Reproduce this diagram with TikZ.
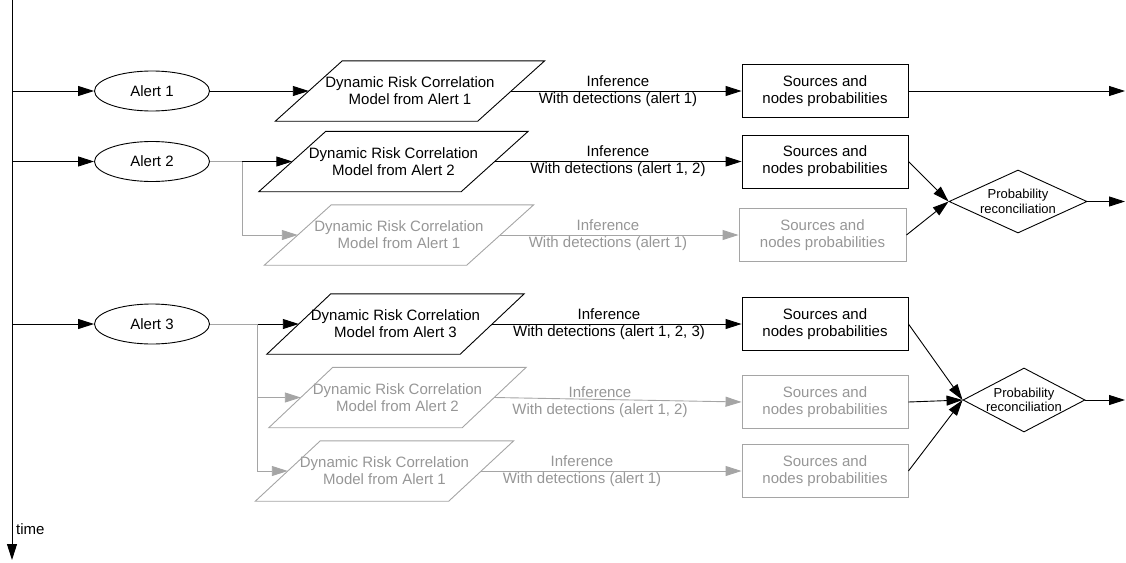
\documentclass[tikz,border=0pt]{standalone}
\usepackage{fontspec}
\setmainfont{Liberation Sans}
\usetikzlibrary{shapes.geometric,arrows.meta}
\definecolor{fadeline}{RGB}{165,165,165}
\definecolor{fadetext}{RGB}{150,150,150}
\tikzset{
  every node/.style={font=\fontsize{15}{17}\selectfont},
  conn/.style={line width=0.9pt, draw=black},
  arr/.style={conn, -{Triangle[length=16pt,width=10pt]}},
  fconn/.style={line width=0.9pt, draw=fadeline},
  farr/.style={fconn, -{Triangle[length=16pt,width=10pt]}},
  alertnode/.style={ellipse, draw, line width=0.9pt, minimum width=115pt, minimum height=40pt, inner sep=0pt},
  paranode/.style={rectangle, minimum width=202pt, minimum height=60pt, inner sep=0pt, align=center},
  parasmall/.style={paranode, minimum width=193pt},
  boxnode/.style={rectangle, draw, line width=0.9pt, minimum width=166pt, minimum height=53pt, inner sep=0pt, align=center},
  fbox/.style={boxnode, draw=fadeline, text=fadetext},
  labelnode/.style={align=center, inner sep=0pt},
  recon/.style={diamond, draw, line width=0.9pt, inner sep=0pt},
  recontext/.style={align=center, font=\fontsize{13}{14.5}\selectfont}
}
\begin{document}
\begin{tikzpicture}[x=1pt, y=-1pt]
\useasboundingbox (0,0) rectangle (1126,562);

% time axis
\coordinate (t0) at (12,0);
\coordinate (t1) at (12,560);
\draw[arr] (t0) -- (t1);
\node[anchor=west, inner sep=0pt] (timelbl) at (16,529) {time};
\coordinate (a1) at (12,91);
\coordinate (a2) at (12,161.5);
\coordinate (a3) at (12,324);

% alerts
\node[alertnode] (e1) at (152,91) {Alert 1};
\node[alertnode] (e2) at (152,161.5) {Alert 2};
\node[alertnode] (e3) at (152,324) {Alert 3};

% models
\node[paranode] (p1) at (410,91) {Dynamic Risk Correlation\\Model from Alert 1};
\node[paranode] (p2) at (393.5,161.5) {Dynamic Risk Correlation\\Model from Alert 2};
\node[paranode, text=fadetext] (p2b) at (399,235) {Dynamic Risk Correlation\\Model from Alert 1};
\node[parasmall] (p3) at (395.5,324) {Dynamic Risk Correlation\\Model from Alert 3};
\node[parasmall, text=fadetext] (p3b) at (397.5,397.5) {Dynamic Risk Correlation\\Model from Alert 2};
\node[parasmall, text=fadetext] (p3c) at (384.5,471) {Dynamic Risk Correlation\\Model from Alert 1};

\foreach \n/\s/\c in {p1/33.5/black, p2/33.5/black, p2b/33.5/fadeline, p3/32/black, p3b/32/fadeline, p3c/32.5/fadeline}
  \draw[line width=0.9pt, draw=\c] ([xshift=-\s pt]\n.south west) -- ([xshift=-\s pt]\n.south east) -- ([xshift=\s pt]\n.north east) -- ([xshift=\s pt]\n.north west) -- cycle;

% result boxes
\node[boxnode] (b1) at (825,91) {Sources and\\nodes probabilities};
\node[boxnode] (b2) at (825,161.5) {Sources and\\nodes probabilities};
\node[fbox, minimum width=167pt] (b2b) at (822.5,235) {Sources and\\nodes probabilities};
\node[boxnode] (b3) at (825,324) {Sources and\\nodes probabilities};
\node[fbox] (b3b) at (825,402) {Sources and\\nodes probabilities};
\node[fbox] (b3c) at (825,471) {Sources and\\nodes probabilities};

% reconciliation
\node[recon, minimum width=138pt, minimum height=63pt, label={[recontext]center:Probability\\reconciliation}] (d1) at (1018,201.5) {};
\node[recon, minimum width=122pt, minimum height=64pt, label={[recontext]center:Probability\\reconciliation}] (d2) at (1024,400) {};

% exits
\coordinate (o1) at (1125,91);
\coordinate (o2) at (1125,201.5);
\coordinate (o3) at (1125,400);

% junctions
\coordinate (j2) at (242,161.5);
\coordinate (j3) at (257,324);

% inference labels
\node[labelnode] (l1) at (618,91) {Inference\\With detections (alert 1)};
\node[labelnode] (l2) at (618,161.5) {Inference\\With detections (alert 1, 2)};
\node[labelnode, text=fadetext] (l2b) at (608,235) {Inference\\With detections (alert 1)};
\node[labelnode] (l3) at (609,324) {Inference\\With detections (alert 1, 2, 3)};
\node[labelnode, text=fadetext] (l3b) at (600,402) {Inference\\With detections (alert 1, 2)};
\node[labelnode, text=fadetext] (l3c) at (582,471) {Inference\\With detections (alert 1)};

% connectors
\draw[arr] (a1) -- (e1.west);
\draw[arr] (a2) -- (e2.west);
\draw[arr] (a3) -- (e3.west);

\draw[arr] (e1.east) -- (p1.west);
\draw[fconn] (e2.east) -- (j2);
\draw[arr] (j2) -- (p2.west);
\draw[farr] (j2) |- (p2b.west);
\draw[fconn] (e3.east) -- (j3);
\draw[arr] (j3) -- (p3.west);
\draw[farr] (j3) |- (p3b.west);
\draw[farr] (j3) |- (p3c.west);

\draw[arr] (p1.east) -- (b1.west);
\draw[arr] (p2.east) -- (b2.west);
\draw[farr] (p2b.east) -- (b2b.west);
\draw[arr] (p3.east) -- (b3.west);
\draw[farr] (p3b.east) -- (b3b.west);
\draw[farr] (p3c.east) -- (b3c.west);

\draw[arr] (b1.east) -- (o1);
\draw[arr] (b2.east) -- (d1.west);
\draw[arr] (b2b.east) -- (d1.west);
\draw[arr] (d1.east) -- (o2);
\draw[arr] (b3.east) -- (d2.west);
\draw[arr] (b3b.east) -- (d2.west);
\draw[arr] (b3c.east) -- (d2.west);
\draw[arr] (d2.east) -- (o3);
\end{tikzpicture}
\end{document}
